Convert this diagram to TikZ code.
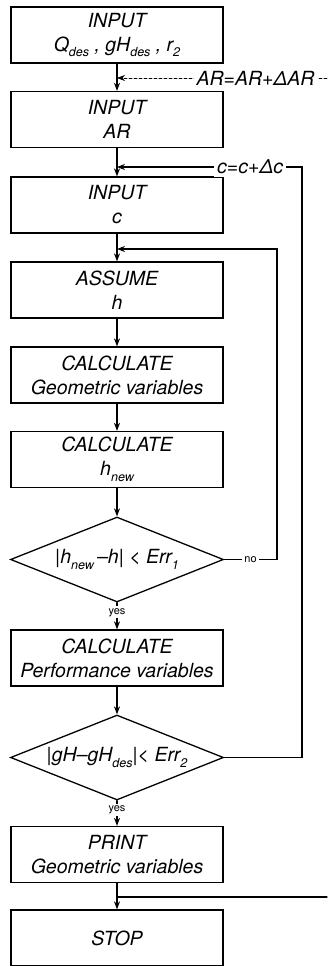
\documentclass[tikz,border=0pt]{standalone}
\usepackage{fontspec}
\setmainfont{TeX Gyre Heros}
\usetikzlibrary{arrows.meta,calc,shapes.geometric}
\newcommand\lo[1]{\raisebox{-0.55ex}{\fontsize{12.5}{12}\selectfont #1}}

\begin{document}
\begin{tikzpicture}[x=1pt, y=-1pt, line cap=round,
  every node/.style={font=\fontsize{19.5}{24}\selectfont\itshape},
  stepbox/.style={draw, line width=1.3pt, minimum width=212pt, minimum height=56pt, align=center, inner sep=2pt},
  testbox/.style={draw, line width=1.3pt, diamond, aspect=2.5, minimum width=213pt, minimum height=85pt, inner sep=0pt},
  flow/.style={line width=1.3pt, -{Stealth[length=8pt,width=6pt]}},
  note/.style={fill=white, inner sep=3pt},
  tag/.style={font=\fontsize{11}{12}\selectfont\upshape, fill=white, inner sep=2pt}]
  \useasboundingbox (0,0) rectangle (327,966);

  % boxes and tests
  \node[stepbox] (in1)  at (117,35)    {INPUT\\Q\lo{des} , gH\lo{des} , r\lo{2}};
  \node[stepbox] (in2)  at (117,119.5) {INPUT\\AR};
  \node[stepbox] (in3)  at (117,205)   {INPUT\\c};
  \node[stepbox] (hgue) at (117,290)   {ASSUME\\h};
  \node[stepbox] (geo)  at (117,375)   {CALCULATE\\Geometric variables};
  \node[stepbox] (hnew) at (117,459.5) {CALCULATE\\h\lo{new}};
  \node[testbox] (t1)   at (117,559.5) {|h\lo{new}\,–h| < Err\lo{1}};
  \node[stepbox] (perf) at (117,658)   {CALCULATE\\Performance variables};
  \node[testbox] (t2)   at (117,757.5) {|gH–gH\lo{des}|< Err\lo{2}};
  \node[stepbox] (prt)  at (117,854.5) {PRINT\\Geometric variables};
  \node[stepbox] (stop) at (117,938)   {STOP};

  % junctions on the main line
  \coordinate (jAR)  at (117,78);
  \coordinate (jc)   at (117,167);
  \coordinate (jh)   at (117,249);
  \coordinate (jout) at (117,897);
  \coordinate (arR)  at (327,78);
  \coordinate (cR)   at (302,167);
  \coordinate (hR)   at (277,249);
  \coordinate (exit) at (327,897);

  \foreach \a/\b in {in1/in2,in2/in3,in3/hgue,hgue/geo,geo/hnew,hnew/t1,perf/t2,prt/stop}
    \draw[flow] (\a.south) -- (\b.north);
  \draw[flow] (t1.south) -- node[tag,pos=0.36] {yes} (perf.north);
  \draw[flow] (t2.south) -- node[tag,pos=0.37] {yes} (prt.north);

  % loops back
  \draw[flow, line width=0.7pt, dash pattern=on 3pt off 2pt]
    (arR) -- node[note,pos=0.34] {AR=AR+ΔAR} (jAR);
  \draw[flow] (t2.east) -| (cR) -- node[note,pos=0.28] {c=c+Δc} (jc);
  \draw[flow] (t1.east) -- node[tag] {no} (t1.east -| hR) |- (jh);
  \draw[line width=1.3pt] (jout) -- (exit);
\end{tikzpicture}
\end{document}
